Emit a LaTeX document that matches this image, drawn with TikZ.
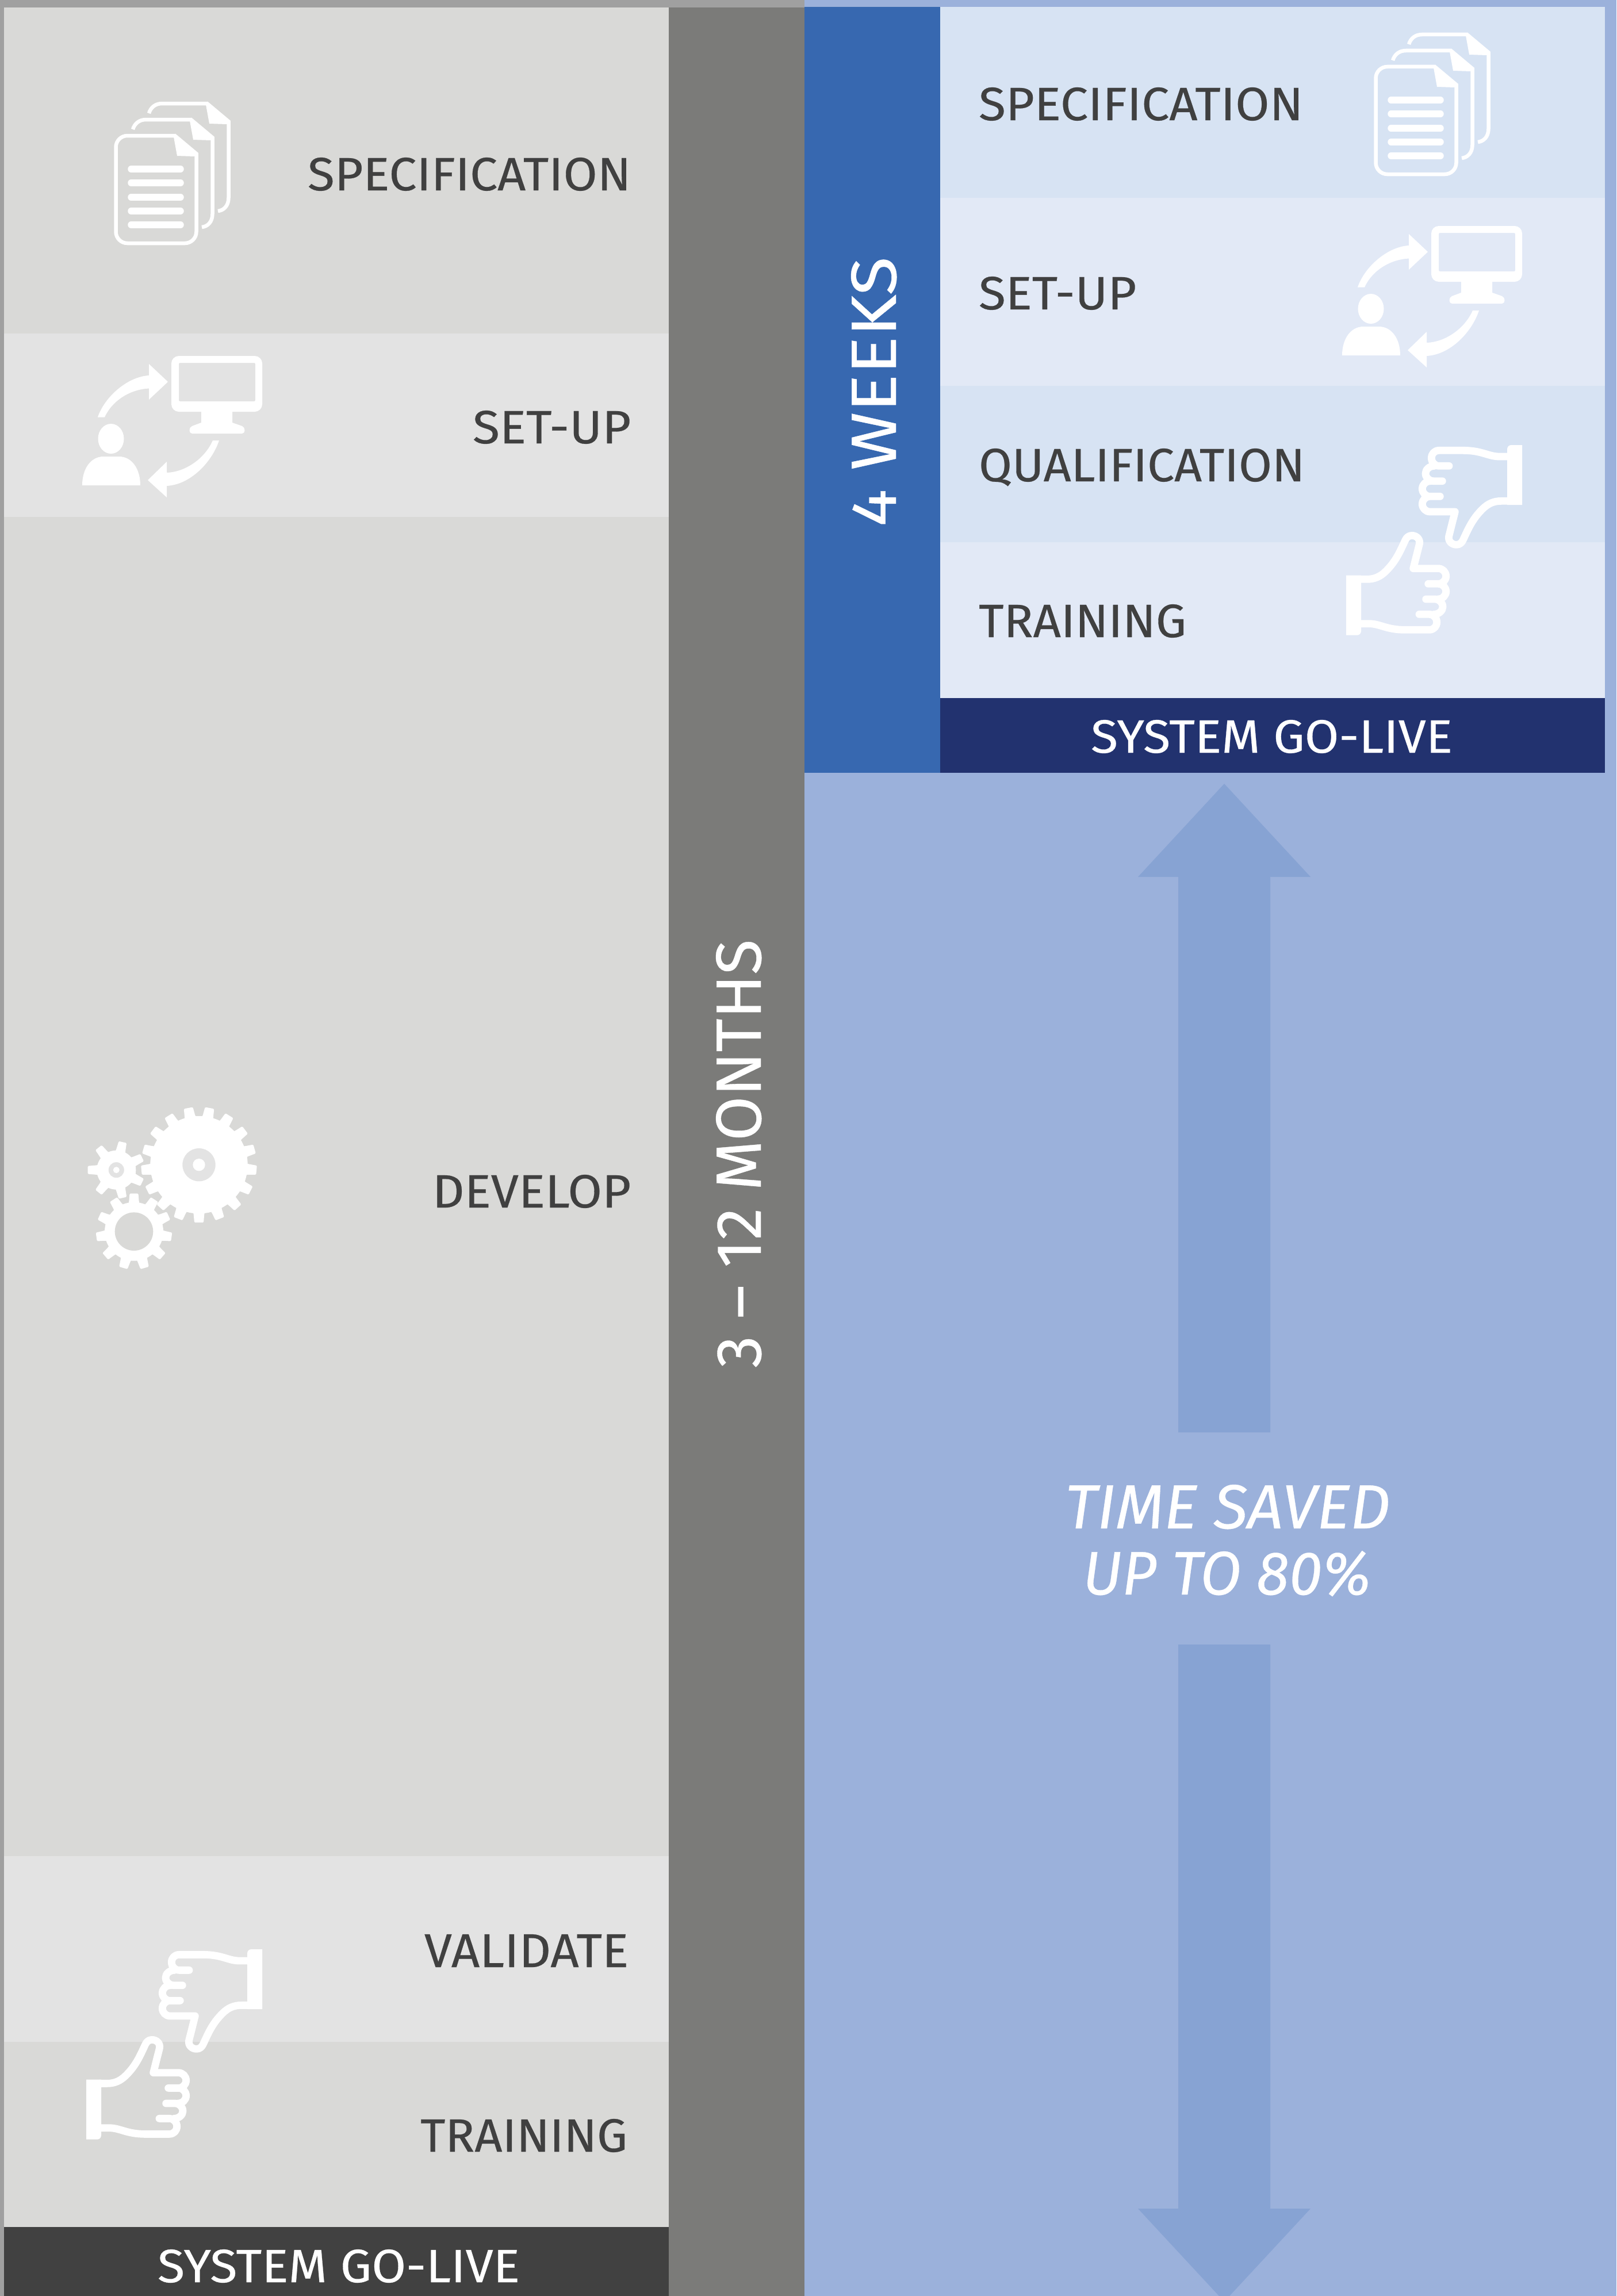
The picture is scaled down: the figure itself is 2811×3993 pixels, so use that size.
\documentclass[tikz,border=0pt]{standalone}
\usepackage{graphicx}
\usepackage{fontspec}
\setmainfont{Fira Sans}[FakeBold=0.35]
\definecolor{leftedge}{HTML}{A0A0A0}
\definecolor{graydark}{HTML}{D9D9D7}
\definecolor{graylight}{HTML}{E3E3E3}
\definecolor{grayfoot}{HTML}{414141}
\definecolor{graystrip}{HTML}{7B7B79}
\definecolor{bluebg}{HTML}{9BB1DB}
\definecolor{bluearrow}{HTML}{87A3D3}
\definecolor{bluestrip}{HTML}{3768B0}
\definecolor{bluefoot}{HTML}{22326F}
\definecolor{bluedark}{HTML}{D7E3F3}
\definecolor{bluelight}{HTML}{E2E9F6}
\definecolor{inktext}{HTML}{404040}
\newcommand\fitbox[3]{\resizebox{#1pt}{#2pt}{#3}}
\newcommand\iconDocs[2]{%
\begin{scope}[shift={(#1,#2)}]
  \foreach \n in {2,1}{
    \begin{scope}[shift={({28*\n},{-28*\n})}]
      \draw[iconline,line width=6.5pt,line cap=butt] (203,253) .. controls (206,243) and (214,236) .. (226,236) -- (305,236);
      \draw[iconline,line width=6.5pt,line cap=butt] (341.5,266) -- (341.5,400) .. controls (341.5,414) and (333,422) .. (323,423);
      \fill[white] (302,238) -- (308,271) -- (338,272) -- (345,266) -- (305,232.5) -- cycle;
    \end{scope}}
  \draw[iconline,line width=6.5pt,rounded corners=20pt] (305,236) -- (201.5,236) -- (201.5,423) -- (341.5,423) -- (341.5,266);
  \fill[white] (302,238) -- (308,271) -- (338,272) -- (345,266) -- (305,232.5) -- cycle;
  \foreach \yy in {294,318,343,367,391}{
    \draw[iconline,line width=11.5pt,line cap=round] (228,\yy) -- (314,\yy);}
\end{scope}}
\newcommand\iconSetup[2]{%
\begin{scope}[shift={(#1,#2)}]
  \fill[white,even odd rule,rounded corners=13pt] (298,619) rectangle (456,716) [rounded corners=2pt] (311,631) rectangle (444,698);
  \fill[white] (350,714) -- (350,735) -- (334,741) .. controls (328,743) and (328,754) .. (334,754) -- (421,754) .. controls (427,754) and (427,743) .. (421,741) -- (404,735) -- (404,714) -- cycle;
  \fill[white] (170,725.5) .. controls (182,690) and (222,655) .. (259,653) -- (259,633) -- (292,664) -- (259,695) -- (259,675.5) .. controls (228,677) and (196,695) .. (182,725.5) -- cycle;
  \fill[white] (381,766) .. controls (368,805) and (330,843) .. (290,845) -- (290,865) -- (257,835) -- (290,803) -- (290,822) .. controls (322,821) and (356,798) .. (370,766) -- cycle;
  \fill[white] (193,763) ellipse [x radius=22.5pt,y radius=26pt];
  \fill[white] (143,844) .. controls (143,815) and (158,794) .. (180,794) -- (207,794) .. controls (229,794) and (244,815) .. (244,844) -- cycle;
\end{scope}}
\newcommand\gearwheel[7]{%
\begin{scope}[shift={(#1,#2)}]
  \fill[white] (0,0) circle [radius=#3pt];
  \foreach \k in {1,...,#6}{
    \pgfmathsetmacro\aa{#7+(\k-1)*360/#6}
    \fill[white,rotate=\aa,rounded corners=1.5pt] ({#3-4},{-0.66*#5}) -- ({#3+1},{-0.58*#5}) -- (#4,{-0.5*#5}) -- (#4,{0.5*#5}) -- ({#3+1},{0.58*#5}) -- ({#3-4},{0.66*#5}) -- cycle;}
\end{scope}}
\newcommand\handpath{%
  \fill[white] (1068,150) -- (1068,462) -- (990,462) -- (990,172) .. controls (990,158) and (1000,150) .. (1012,150) -- cycle;
  \draw[iconline,line width=12.8pt,line cap=round,line join=round]
    (1000,210) -- (950,210) .. controls (890,210) and (860,178) .. (760,178) -- (635,178)
    .. controls (610,178) and (595,196) .. (595,218) .. controls (595,240) and (612,259) .. (635,259) -- (687,259)
    (610,259) .. controls (585,259) and (564,277) .. (564,298) .. controls (564,320) and (583,338) .. (605,338) -- (652,338)
    (590,338) .. controls (566,338) and (547,356) .. (547,378) .. controls (547,400) and (565,418) .. (587,418) -- (640,418)
    (587,418) .. controls (565,418) and (547,436) .. (547,458) .. controls (547,480) and (565,498) .. (587,498) -- (718,498) -- (686,625)
    .. controls (680,652) and (702,670) .. (725,670) .. controls (742,670) and (753,660) .. (760,645)
    .. controls (790,580) and (810,535) .. (860,485) .. controls (890,455) and (920,442) .. (960,442) -- (1000,442);}
\newcommand\iconHands[2]{%
\begin{scope}[shift={(#1,#2)},shift={(100,3340)},scale=1/3]
  \handpath
  \begin{scope}[rotate around={180:(609,646)}]
    \handpath
  \end{scope}
\end{scope}}
\begin{document}
\begin{tikzpicture}[x=1pt,y=-1pt,
  iconline/.style={draw=white},
  lab/.style={inner sep=0pt,outer sep=0pt,anchor=base west},
  dark/.style={lab,text=inktext},
  pale/.style={lab,text=white},
  upward/.style={lab,text=white,rotate=90}]
\useasboundingbox (0,0) rectangle (2811,3993);
% backgrounds
\fill[leftedge] (0,0) rectangle (1399,3993);
\fill[bluebg] (1399,0) rectangle (2811,3993);
% left column
\fill[graydark] (7,13) rectangle (1163,580);
\fill[graylight] (7,580) rectangle (1163,899);
\fill[graydark] (7,899) rectangle (1163,3228);
\fill[graylight] (7,3228) rectangle (1163,3551);
\fill[graydark] (7,3551) rectangle (1163,3873);
\fill[grayfoot] (7,3873) rectangle (1163,3993);
\fill[graystrip] (1163,13) rectangle (1399,3993);
% right column
\fill[bluestrip] (1399,12) rectangle (1635,1344);
\fill[bluedark] (1635,12) rectangle (2791,344);
\fill[bluelight] (1635,344) rectangle (2791,671);
\fill[bluedark] (1635,671) rectangle (2791,943);
\fill[bluelight] (1635,943) rectangle (2791,1214);
\fill[bluefoot] (1635,1214) rectangle (2791,1344);
% double arrow
\fill[bluearrow] (2129,1363) -- (2279,1525) -- (2209,1525) -- (2209,2491) -- (2049,2491) -- (2049,1525) -- (1979,1525) -- cycle;
\fill[bluearrow] (2049,2860) -- (2209,2860) -- (2209,3841) -- (2279,3841) -- (2138,3993) -- (2120,3993) -- (1979,3841) -- (2049,3841) -- cycle;
% icons
\iconDocs{0}{0}
\iconDocs{2191}{-120}
\iconSetup{0}{0}
\iconSetup{2191}{-226}
\gearwheel{346}{2025.7}{84.7}{100.5}{16}{17}{-90}
\fill[graylight] (346,2025.7) circle [radius=28.7pt];
\fill[white] (346,2025.7) circle [radius=10.7pt];
\gearwheel{202.3}{2034.7}{34}{49.7}{14}{7}{180}
\fill[graylight] (202.3,2034.7) circle [radius=13.5pt];
\fill[white] (202.3,2034.7) circle [radius=5.5pt];
\gearwheel{233}{2141.7}{51}{66}{15}{11}{90}
\fill[graydark] (233,2141.7) circle [radius=33.3pt];
\iconHands{0}{0}
\iconHands{2191}{-2616}
% left labels
\node[dark] (lspec) at (535,331) {\fitbox{562}{57}{SPECIFICATION}};
\node[dark] (lsetup) at (822,771) {\fitbox{275}{57}{SET-UP}};
\node[dark] (ldev) at (752,2100) {\fitbox{345}{57}{DEVELOP}};
\node[dark] (lval) at (738,3421) {\fitbox{355}{57}{VALIDATE}};
\node[dark] (ltrain) at (731,3742) {\fitbox{360}{57}{TRAINING}};
\node[pale] (lgo) at (274,3969) {\fitbox{630}{57}{SYSTEM GO-LIVE}};
\node[upward,anchor=base west] (lmonths) at (1323,2379) {\fitbox{745}{78}{3 – 12 MONTHS}};
% right labels
\node[dark] (rspec) at (1702,209) {\fitbox{564}{57}{SPECIFICATION}};
\node[dark] (rsetup) at (1702,538) {\fitbox{274}{57}{SET-UP}};
\node[dark] (rqual) at (1702,837) {\fitbox{567}{57}{QUALIFICATION}};
\node[dark] (rtrain) at (1702,1108) {\fitbox{361}{57}{TRAINING}};
\node[pale] (rgo) at (1897,1309) {\fitbox{629}{57}{SYSTEM GO-LIVE}};
\node[upward,anchor=base west] (rweeks) at (1558,916) {\fitbox{469}{78}{4 WEEKS}};
\node[pale] (saved1) at (1852,2658) {\fitbox{565}{76}{\itshape TIME SAVED}};
\node[pale] (saved2) at (1883,2773) {\fitbox{501}{76}{\itshape UP TO 80\%}};
\end{tikzpicture}
\end{document}
